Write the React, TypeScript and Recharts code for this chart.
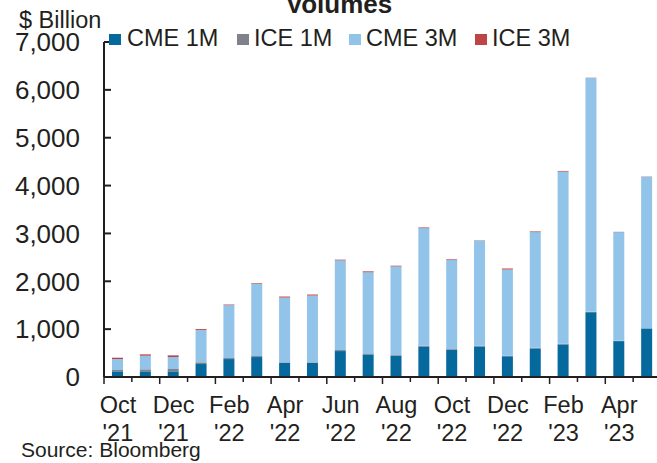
import React from 'react';
import { BarChart, Bar, XAxis, YAxis } from 'recharts';

// ---------------------------------------------------------------------------
// Data ($ Billion, monthly volumes)
// ---------------------------------------------------------------------------
const months = [
  'Oct', 'Nov', 'Dec', 'Jan', 'Feb', 'Mar', 'Apr', 'May', 'Jun', 'Jul',
  'Aug', 'Sep', 'Oct', 'Nov', 'Dec', 'Jan', 'Feb', 'Mar', 'Apr', 'May',
];
const years = [
  "'21", "'21", "'21", "'22", "'22", "'22", "'22", "'22", "'22", "'22",
  "'22", "'22", "'22", "'22", "'22", "'23", "'23", "'23", "'23", "'23",
];
const cme1m = [118, 118, 118, 271, 375, 417, 292, 292, 542, 472, 444, 639, 569, 639, 431, 597, 681, 1354, 750, 1014];
const ice1m = [28, 42, 49, 35, 21, 21, 14, 14, 21, 21, 14, 14, 14, 14, 14, 14, 14, 7, 5, 5];
const cme3m = [229, 285, 250, 674, 1104, 1507, 1354, 1396, 1875, 1694, 1854, 2458, 1861, 2201, 1799, 2417, 3597, 4889, 2273, 3167];
const ice3m = [28, 28, 35, 21, 14, 14, 21, 21, 14, 21, 14, 14, 14, 5, 21, 14, 14, 5, 5, 5];
const yTicks = [0, 1000, 2000, 3000, 4000, 5000, 6000, 7000];

const series = [
  { key: 'cme1m', name: 'CME 1M', color: '#05699e' },
  { key: 'ice1m', name: 'ICE 1M', color: '#7f828b' },
  { key: 'cme3m', name: 'CME 3M', color: '#92c4ea' },
  { key: 'ice3m', name: 'ICE 3M', color: '#bd4545' },
];

const data = months.map((m, i) => ({
  label: `${m} ${years[i]}`,
  month: m,
  year: years[i],
  cme1m: cme1m[i],
  ice1m: ice1m[i],
  cme3m: cme3m[i],
  ice3m: ice3m[i],
}));

// ---------------------------------------------------------------------------
// Layout
// ---------------------------------------------------------------------------
const FONT = "Arial, 'Liberation Sans', sans-serif";
const INK = '#231f20';
const PLOT_W = 557;
const STEP = PLOT_W / months.length;

const YTick = ({ x, y, payload }: any) => (
  <g>
    <line x1={x} x2={x + 7} y1={y} y2={y} stroke={INK} strokeWidth={2} />
    <text x={x - 24} y={y} dy="0.355em" textAnchor="end" fontSize={26} fill={INK} fontFamily={FONT}>
      {payload.value.toLocaleString('en-US')}
    </text>
  </g>
);

const XTick = ({ x, y, index }: any) => {
  const even = index % 2 === 0;
  const tx = x - STEP / 2;
  return (
    <g>
      <line x1={tx} x2={tx} y1={y} y2={y + (even ? 7 : 5)} stroke={INK} strokeWidth={1.5} />
      {even && (
        <text x={x} y={y} textAnchor="middle" fontSize={23.5} fill={INK} fontFamily={FONT}>
          <tspan x={x} dy={36}>{months[index]}</tspan>
          <tspan x={x} dy={28}>{years[index]}</tspan>
        </text>
      )}
    </g>
  );
};

const legendPos = [
  { sx: 109, tx: 127 },
  { sx: 237, tx: 254 },
  { sx: 349, tx: 366 },
  { sx: 475, tx: 492 },
];

export default function App() {
  return (
    <div style={{ position: 'fixed', left: 0, top: 0, width: 657, height: 463, overflow: 'hidden', background: '#fff' }}>
      <BarChart
        width={664}
        height={463}
        data={data}
        margin={{ top: 42, right: 3, bottom: 26, left: 44 }}
        barSize={11}
      >
        <XAxis
          dataKey="label"
          interval={0}
          height={60}
          tickLine={false}
          tickSize={0}
          tickMargin={0}
          axisLine={{ stroke: INK, strokeWidth: 2 }}
          tick={<XTick />}
        />
        <YAxis
          width={60}
          domain={[0, 7000]}
          ticks={yTicks}
          interval={0}
          tickLine={false}
          tickSize={0}
          tickMargin={0}
          axisLine={{ stroke: INK, strokeWidth: 2 }}
          tick={<YTick />}
        />
        {series.map((s) => (
          <Bar key={s.key} dataKey={s.key} name={s.name} stackId="v" fill={s.color} isAnimationActive={false} />
        ))}
      </BarChart>
      <svg width={657} height={463} style={{ position: 'absolute', left: 0, top: 0, pointerEvents: 'none' }}>
        <text x={339} y={13} textAnchor="middle" fontSize={26} fontWeight="bold" fill={INK} fontFamily={FONT}>
          Volumes
        </text>
        <text x={19} y={28} fontSize={23.5} fill={INK} fontFamily={FONT}>
          $ Billion
        </text>
        {series.map((s, i) => (
          <g key={s.key}>
            <rect x={legendPos[i].sx} y={34} width={12} height={11} fill={s.color} />
            <text x={legendPos[i].tx} y={46} fontSize={23.5} fill={INK} fontFamily={FONT}>
              {s.name}
            </text>
          </g>
        ))}
        <text x={21} y={457} fontSize={21} fill={INK} fontFamily={FONT}>
          Source: Bloomberg
        </text>
      </svg>
    </div>
  );
}
